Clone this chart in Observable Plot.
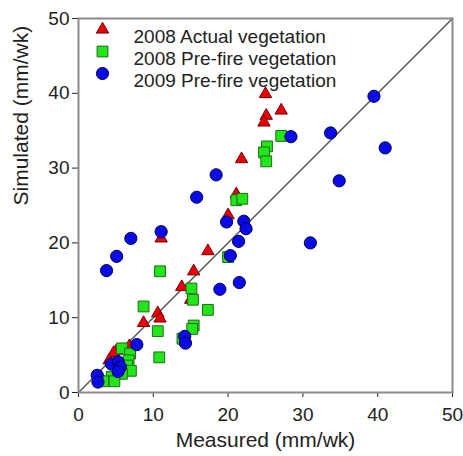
<!DOCTYPE html>
<html><head><meta charset="utf-8">
<script src="https://cdn.jsdelivr.net/npm/d3@7"></script>
<script src="https://cdn.jsdelivr.net/npm/@observablehq/plot@0.6"></script>
<style>body{margin:0;background:#fff}</style>
</head><body><div id="chart"></div>
<script>
const seriesNames = ["2008 Actual vegetation", "2008 Pre-fire vegetation", "2009 Pre-fire vegetation"];
const xLabel = "Measured (mm/wk)";
const yLabel = "Simulated (mm/wk)";
const axisTicks = [0, 10, 20, 30, 40, 50];
const identityLine = [0, 50];

// [measured, simulated]
const actual2008 = [
  [25.0, 39.9], [27.1, 37.7], [25.1, 37.0], [24.8, 36.1], [21.8, 31.2],
  [21.1, 26.5], [20.0, 23.7], [11.05, 20.6], [17.3, 18.9], [15.4, 16.2],
  [13.8, 14.1], [15.0, 12.4], [10.6, 10.6], [10.9, 9.9], [8.7, 9.3],
  [6.8, 6.2], [5.1, 5.6], [4.7, 5.3], [4.1, 4.3], [3.0, 2.0]
];
const prefire2008 = [
  [27.1, 34.3], [25.2, 32.9], [24.8, 32.1], [25.1, 30.9], [21.1, 25.7],
  [21.9, 25.9], [20.0, 18.1], [10.9, 16.2], [15.1, 13.9], [15.3, 12.4],
  [8.7, 11.5], [17.3, 11.05], [10.6, 8.2], [15.4, 8.95], [15.2, 8.5],
  [13.9, 7.2], [10.8, 4.7], [5.8, 5.9], [6.9, 5.2], [6.7, 4.3],
  [6.5, 3.6], [7.0, 2.9], [5.8, 2.5], [4.45, 2.1], [4.8, 1.5], [3.3, 1.5]
];
const prefire2009 = [
  [2.5, 2.3], [2.6, 1.4], [4.4, 3.8], [5.3, 4.1], [5.6, 3.4], [5.3, 2.8],
  [7.8, 6.4], [3.75, 16.3], [5.1, 18.2], [7.0, 20.6], [11.05, 21.5],
  [15.8, 26.1], [18.4, 29.1], [19.8, 22.8], [22.1, 22.9], [22.4, 21.9],
  [21.4, 20.2], [20.3, 18.3], [18.9, 13.8], [21.5, 14.7], [14.2, 7.5],
  [14.3, 6.6], [28.4, 34.2], [33.7, 34.7], [39.5, 39.6], [41.0, 32.7],
  [34.85, 28.3], [31.0, 20.0]
];

const styles = [
  {symbol: "triangle", fill: "#e8000b", stroke: "#7a0000", r: 4.6},
  {symbol: "square", fill: "#22e51a", stroke: "#1d6b14", r: 6.1},
  {symbol: "circle", fill: "#0a0ae6", stroke: "#00004f", r: 6.1}
];
const seriesData = [actual2008, prefire2008, prefire2009];
const font = "'Liberation Sans', Arial, sans-serif";

const marks = [
  Plot.line(identityLine, {x: d => d, y: d => d, stroke: "#555", strokeWidth: 1.5}),
  ...seriesData.map((data, i) => Plot.dot(data, {
    x: d => d[0], y: d => d[1],
    symbol: styles[i].symbol, r: styles[i].r,
    fill: styles[i].fill, stroke: styles[i].stroke, strokeWidth: 1
  })),
  Plot.frame({stroke: "#8a8a8a", strokeWidth: 2}),
  ...seriesNames.map((name, i) => Plot.dot([name], {
    frameAnchor: "top-left", dx: 24, dy: 11 + i * 22,
    symbol: styles[i].symbol, r: styles[i].r,
    fill: styles[i].fill, stroke: styles[i].stroke, strokeWidth: 1
  })),
  ...seriesNames.map((name, i) => Plot.text([name], {
    frameAnchor: "top-left", dx: 55, dy: 11 + i * 22, text: d => d,
    textAnchor: "start", fontSize: 19, fill: "#222"
  })),
  Plot.text([xLabel], {frameAnchor: "bottom", dy: 54, text: d => d, fontSize: 21, fill: "#222"}),
  Plot.text([yLabel], {frameAnchor: "left", dx: -57, rotate: -90, text: d => d, fontSize: 21, fill: "#222"})
];

const chart = Plot.plot({
  width: 463, height: 456,
  marginLeft: 78, marginRight: 11, marginTop: 18, marginBottom: 64,
  style: {fontFamily: font, fontSize: "19px", color: "#222", background: "#fff"},
  x: {domain: [0, 50], ticks: axisTicks, tickSize: 5, tickPadding: 10, label: null},
  y: {domain: [0, 50], ticks: axisTicks, tickSize: 6, tickPadding: 3, label: null},
  marks
});
document.getElementById("chart").append(chart);
</script>
</body></html>
